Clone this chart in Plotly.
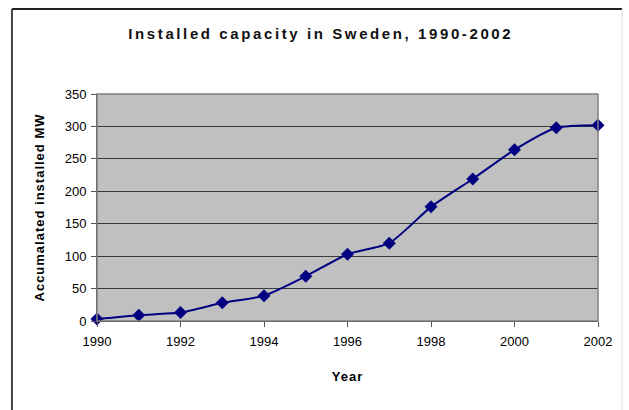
import plotly.graph_objects as go

years = [1990, 1991, 1992, 1993, 1994, 1995, 1996, 1997, 1998, 1999, 2000, 2001, 2002]
capacity = [3, 9, 13, 28, 39, 69, 103, 120, 176, 219, 264, 298, 302]
x_ticks = [1990, 1992, 1994, 1996, 1998, 2000, 2002]
y_ticks = [0, 50, 100, 150, 200, 250, 300, 350]

fig = go.Figure()
fig.add_trace(go.Scatter(
    x=years, y=capacity, mode="lines+markers",
    line=dict(color="#000080", width=2, shape="spline", smoothing=0.6),
    marker=dict(symbol="diamond", size=10, color="#000080"),
    showlegend=False, cliponaxis=False,
))

fig.update_layout(
    width=629, height=410,
    margin=dict(l=97, r=31, t=94, b=89),
    paper_bgcolor="white",
    plot_bgcolor="#c0c0c0",
    font=dict(family="Liberation Sans, Arial, sans-serif", color="black", size=13),
    title=dict(
        text='<span style="letter-spacing:2.6px">Installed capacity in Sweden, 1990-2002</span>',
        x=0.51, xanchor="center", y=0.918, yanchor="middle",
        font=dict(size=15, weight="bold", color="#111"),
    ),
    xaxis=dict(
        range=[1990, 2002], tickvals=x_ticks, ticktext=[str(v) for v in x_ticks],
        showgrid=False, zeroline=False,
        showline=True, linecolor="#333", linewidth=1,
        ticks="outside", ticklen=5, tickcolor="#555",
        tickfont=dict(size=13), ticklabelstandoff=3,
        title=dict(text='<span style="letter-spacing:1px">Year</span>',
                   font=dict(size=13, weight="bold"), standoff=24),
    ),
    yaxis=dict(
        range=[0, 350], tickvals=y_ticks,
        showgrid=True, gridcolor="#3a3a3a", gridwidth=1,
        zeroline=False,
        showline=True, linecolor="#333", linewidth=1,
        ticks="outside", ticklen=5, tickcolor="#555",
        tickfont=dict(size=13), ticklabelstandoff=2,
        title=dict(text='<span style="letter-spacing:1px">Accumalated installed MW</span>',
                   font=dict(size=13, weight="bold"), standoff=17),
    ),
    shapes=[
        dict(type="rect", xref="paper", yref="paper", x0=0, x1=1, y0=0, y1=1,
             line=dict(color="#808080", width=1.5), layer="above"),
        dict(type="line", xref="paper", yref="paper", x0=-0.1697, x1=1.048, y0=1.374, y1=1.374,
             line=dict(color="#222", width=2)),
        dict(type="line", xref="paper", yref="paper", x0=-0.1697, x1=-0.1697, y0=1.374, y1=-0.45,
             line=dict(color="#444", width=2)),
        dict(type="line", xref="paper", yref="paper", x0=1.048, x1=1.048, y0=1.374, y1=-0.45,
             line=dict(color="#ddd", width=1)),
    ],
)

fig.write_html("out.html")
